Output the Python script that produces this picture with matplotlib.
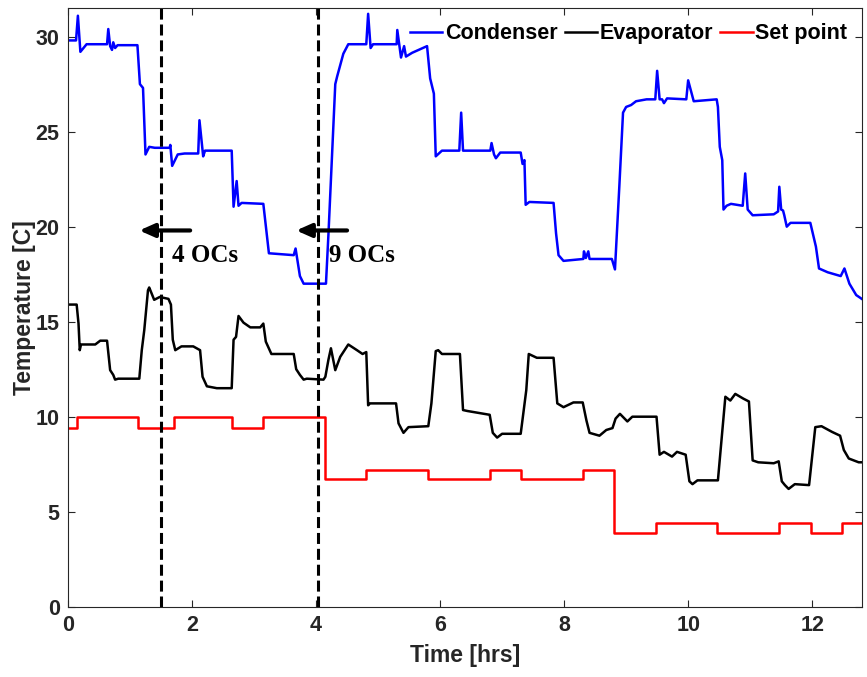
import numpy as np
import matplotlib
matplotlib.use("Agg")
import matplotlib.pyplot as plt

# condenser temperature as (time [hrs], temp [C])
cond_t = [0.0, 0.13, 0.16, 0.20, 0.30, 0.63, 0.65, 0.68, 0.71, 0.73, 0.76, 0.80, 1.12,
          1.16, 1.21, 1.25, 1.31, 1.40, 1.64, 1.65, 1.68, 1.77, 1.88, 2.10, 2.12, 2.18, 2.21,
          2.64, 2.67, 2.72, 2.75, 2.80, 3.15, 3.24, 3.64, 3.67, 3.74, 3.80, 4.16, 4.20, 4.31,
          4.34, 4.44, 4.52, 4.81, 4.84, 4.88, 4.92, 5.30, 5.31, 5.37, 5.42, 5.45, 5.55, 5.79,
          5.84, 5.90, 5.93, 6.03, 6.31, 6.34, 6.37, 6.81, 6.83, 6.87, 6.90, 6.97, 7.30, 7.33,
          7.36, 7.38, 7.44, 7.83, 7.87, 7.91, 7.99, 8.31, 8.32, 8.35, 8.39, 8.41, 8.63, 8.77,
          8.82, 8.89, 8.95, 9.00, 9.08, 9.16, 9.33, 9.47, 9.50, 9.54, 9.58, 9.61, 9.66, 9.97,
          10.00, 10.09, 10.46, 10.48, 10.51, 10.55, 10.57, 10.62, 10.69, 10.88, 10.92, 10.96,
          11.04, 11.38, 11.45, 11.47, 11.50, 11.53, 11.55, 11.59, 11.65, 11.97, 12.06, 12.11,
          12.25, 12.46, 12.52, 12.60, 12.71, 12.80]
cond_v = [29.8, 29.8, 31.1, 29.2, 29.6, 29.6, 30.4, 29.5, 29.3, 29.7, 29.4, 29.55, 29.55,
          27.5, 27.3, 23.8, 24.2, 24.15, 24.15, 24.3, 23.2, 23.8, 23.85, 23.85, 25.6, 23.7, 24.0,
          24.0, 21.05, 22.4, 21.1, 21.25, 21.2, 18.6, 18.5, 18.85, 17.4, 17.0, 17.0, 19.6, 27.5,
          27.9, 29.1, 29.6, 29.6, 31.2, 29.4, 29.6, 29.6, 30.35, 28.9, 29.5, 28.95, 29.15, 29.5,
          27.8, 27.0, 23.7, 24.0, 24.0, 26.0, 24.0, 24.0, 24.4, 23.8, 23.6, 23.9, 23.9, 23.3,
          23.5, 21.15, 21.3, 21.25, 19.65, 18.5, 18.2, 18.3, 18.7, 18.35, 18.7, 18.3, 18.3, 18.3,
          17.75, 22.1, 26.0, 26.3, 26.4, 26.6, 26.7, 26.7, 28.2, 26.7, 26.7, 26.5, 26.75, 26.7,
          27.7, 26.6, 26.7, 26.3, 24.2, 23.5, 20.9, 21.1, 21.2, 21.1, 22.8, 20.9,
          20.6, 20.65, 20.8, 22.1, 20.9, 20.85, 20.6, 20.0, 20.2, 20.2, 18.95, 17.8,
          17.6, 17.4, 17.8, 17.0, 16.4, 16.2]

# evaporator temperature
evap_t = [0.0, 0.14, 0.17, 0.19, 0.21, 0.44, 0.52, 0.63, 0.68, 0.73, 0.76, 0.81, 1.15,
          1.19, 1.23, 1.29, 1.31, 1.39, 1.48, 1.62, 1.66, 1.69, 1.73, 1.83, 2.02, 2.13, 2.17,
          2.24, 2.40, 2.64, 2.67, 2.71, 2.75, 2.83, 2.94, 3.10, 3.15, 3.19, 3.28, 3.64, 3.68,
          3.74, 3.80, 3.85, 4.12, 4.15, 4.20, 4.24, 4.31, 4.39, 4.52, 4.66, 4.75, 4.81, 4.84,
          4.87, 5.29, 5.33, 5.41, 5.49, 5.81, 5.86, 5.93, 5.97, 6.03, 6.32, 6.37, 6.44, 6.80,
          6.85, 6.92, 7.00, 7.30, 7.39, 7.43, 7.56, 7.83, 7.89, 7.99, 8.15, 8.30, 8.36, 8.41,
          8.57, 8.68, 8.78, 8.83, 8.90, 9.02, 9.10, 9.49, 9.54, 9.61, 9.74, 9.82, 9.96, 10.02,
          10.07, 10.15, 10.48, 10.60, 10.68, 10.76, 10.89, 10.98, 11.04, 11.13, 11.38, 11.46,
          11.51, 11.56, 11.62, 11.72, 11.95, 12.05, 12.15, 12.32, 12.45, 12.51, 12.59, 12.75,
          12.80]
evap_v = [15.9, 15.9, 14.9, 13.5, 13.8, 13.8, 14.0, 14.0, 12.45, 12.2, 11.95, 12.0, 12.0,
          13.5, 14.55, 16.65, 16.8, 16.15, 16.3, 16.2, 15.9, 14.05, 13.5, 13.7, 13.7, 13.5, 12.1,
          11.6, 11.5, 11.5, 14.05, 14.2, 15.3, 14.95, 14.7, 14.7, 14.9, 13.95, 13.3, 13.3, 12.5,
          12.2, 11.95, 12.0, 11.95, 12.1, 13.0, 13.6, 12.45, 13.15, 13.8, 13.5, 13.3, 13.4, 10.6,
          10.7, 10.7, 9.65, 9.15, 9.45, 9.5, 10.7, 13.45, 13.5, 13.3, 13.3, 10.35, 10.3, 10.1,
          9.15, 8.9, 9.1, 9.1, 11.4, 13.3, 13.1, 13.1, 10.7, 10.5, 10.75, 10.75, 9.8, 9.15,
          9.0, 9.3, 9.4, 9.9, 10.15, 9.75, 10.0, 10.0, 8.0, 8.15, 7.9, 8.15, 8.0, 6.6,
          6.45, 6.65, 6.65, 11.05, 10.85, 11.2, 10.95, 10.8, 7.7, 7.6, 7.55, 7.65,
          6.6, 6.4, 6.2, 6.45, 6.4, 9.45, 9.5, 9.2, 9.0, 8.25, 7.8, 7.6,
          7.6]

# set point, steps (value holds until the next time)
sp_t = [0.0, 0.14, 1.13, 1.71, 2.64, 3.14, 4.14, 4.81, 5.81, 6.81, 7.31, 8.30, 8.81,
        9.48, 10.47, 11.47, 11.98, 12.48, 12.80]
sp_v = [9.4, 10.0, 9.4, 10.0, 9.4, 10.0, 6.7, 7.2, 6.7, 7.2, 6.7, 7.2, 3.9,
        4.4, 3.9, 4.4, 3.9, 4.4, 4.4]

oc_times = [1.50, 4.03]
oc_labels = ["4 OCs", "9 OCs"]

plt.rcParams['font.family'] = ['Liberation Sans', 'DejaVu Sans']
plt.rcParams['font.weight'] = 'bold'
axcol = '#262626'

fig = plt.figure(figsize=(8.67, 6.77), dpi=100)
ax = fig.add_axes([0.0784, 0.1038, 0.9156, 0.8842])

ax.plot(cond_t, cond_v, color='#0000ff', lw=1.8, label='Condenser')
ax.plot(evap_t, evap_v, color='black', lw=1.8, label='Evaporator')
ax.plot(sp_t, sp_v, color='#ff0000', lw=1.8, drawstyle='steps-post', label='Set point')

for t in oc_times:
    ax.axvline(t, color='black', lw=2.2, dashes=(3.6, 1.6))

for t, lab in zip(oc_times, oc_labels):
    ax.annotate('', xy=(t - 0.35, 19.8), xytext=(t + 0.47, 19.8),
                arrowprops=dict(arrowstyle='-|>,head_length=0.9,head_width=0.4',
                                color='black', lw=3, shrinkA=0, shrinkB=0))
    ax.text(t + 0.18, 18.5, lab, family=['Liberation Serif', 'DejaVu Serif'],
            fontsize=18, fontweight='bold', va='center', ha='left', color='black')

ax.set_xlim(0, 12.8)
ax.set_ylim(0, 31.5)
ax.set_xticks(np.arange(0, 13, 2))
ax.set_yticks(np.arange(0, 31, 5))
ax.tick_params(direction='in', top=True, right=True, length=5, width=0.8,
               labelsize=15.5, colors=axcol, pad=6)
for s in ax.spines.values():
    s.set_color(axcol)
    s.set_linewidth(0.8)

ax.set_xlabel('Time [hrs]', fontsize=16.5, fontweight='bold', color=axcol, labelpad=6)
ax.set_ylabel('Temperature [C]', fontsize=16.5, fontweight='bold', color=axcol, labelpad=-0.5)

ax.legend(loc='upper right', ncol=3, frameon=False, fontsize=15.5,
          handlelength=1.5, handletextpad=0.1, columnspacing=0.35,
          borderaxespad=0.3)

fig.savefig('out.png', dpi=100)
